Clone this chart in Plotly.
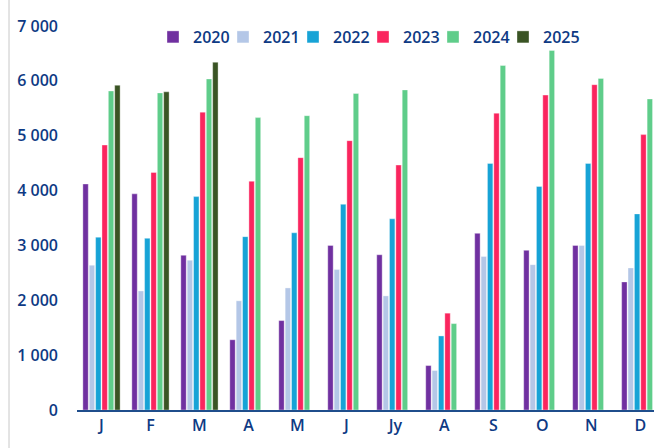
import plotly.graph_objects as go

month_labels = ["J", "F", "M", "A", "M", "J", "Jy", "A", "S", "O", "N", "D"]
years = ["2020", "2021", "2022", "2023", "2024", "2025"]

v2020 = [4120, 3940, 2820, 1280, 1630, 3000, 2830, 810, 3220, 2910, 3000, 2335]
v2021 = [2640, 2170, 2730, 1990, 2225, 2560, 2080, 720, 2800, 2650, 3000, 2590]
v2022 = [3150, 3130, 3890, 3160, 3230, 3750, 3485, 1350, 4495, 4075, 4495, 3575]
v2023 = [4830, 4330, 5430, 4170, 4600, 4910, 4465, 1765, 5410, 5740, 5930, 5020]
v2024 = [5815, 5780, 6035, 5330, 5365, 5770, 5835, 1575, 6280, 6555, 6045, 5670]
v2025 = [5920, 5800, 6340, None, None, None, None, None, None, None, None, None]

series = [v2020, v2021, v2022, v2023, v2024, v2025]
colors = ["#7030A0", "#B4C7E7", "#17A3D6", "#FA255E", "#5FCD8A", "#3A5424"]

text_color = "#0E3A84"
font_family = "Open Sans, Lato, sans-serif"

W, H = 654, 448
L, T, B = 77, 26, 38
PW, PH = W - L, H - T - B

fig = go.Figure()
for name, vals, col in zip(years, series, colors):
    fig.add_trace(go.Bar(
        name=name,
        x=list(range(len(month_labels))),
        y=vals,
        marker=dict(color=col, line=dict(color="rgba(255,255,255,0.6)", width=0.6)),
    ))
# invisible spacer entry so the compact legend is not clipped after "2025"
fig.add_trace(go.Scatter(
    x=[None], y=[None], mode="markers", name=" ",
    marker=dict(color="rgba(0,0,0,0)"), hoverinfo="skip",
))

fig.update_layout(
    width=W, height=H,
    barmode="group",
    bargap=0.22,
    bargroupgap=0.15,
    plot_bgcolor="white",
    paper_bgcolor="white",
    margin=dict(l=L, r=0, t=T, b=B, autoexpand=False),
    font=dict(family=font_family, color=text_color, size=15),
    legend=dict(
        orientation="h",
        x=(153 - L) / PW, xanchor="left",
        y=(PH + T - 37) / PH, yanchor="middle",
        font=dict(size=16, color=text_color, weight=600),
        itemwidth=30,
        entrywidth=25,
        bgcolor="rgba(0,0,0,0)",
        traceorder="normal",
    ),
    xaxis=dict(
        tickmode="array",
        tickvals=list(range(len(month_labels))),
        ticktext=month_labels,
        range=[-0.5, 11.28],
        showgrid=False,
        showline=True,
        linecolor="#1F4E8C",
        linewidth=1.5,
        ticks="",
        tickfont=dict(size=16, color=text_color, weight=600),
        zeroline=False,
        automargin=False,
    ),
    yaxis=dict(
        range=[0, 7000],
        tickvals=[0, 1000, 2000, 3000, 4000, 5000, 6000, 7000],
        ticktext=["0", "1 000", "2 000", "3 000", "4 000", "5 000", "6 000", "7 000"],
        showgrid=False,
        showline=False,
        zeroline=False,
        ticks="",
        ticklabelstandoff=18,
        tickfont=dict(size=16, color=text_color, weight=600),
        automargin=False,
    ),
    shapes=[dict(
        type="line", xref="paper", yref="paper",
        x0=(9 - L) / PW, x1=(9 - L) / PW, y0=-B / PH, y1=1 + T / PH,
        line=dict(color="#C8C8C8", width=1),
    )],
)

fig.write_html("out.html", config={"displayModeBar": False},
               post_script="document.body.style.margin='0';")
